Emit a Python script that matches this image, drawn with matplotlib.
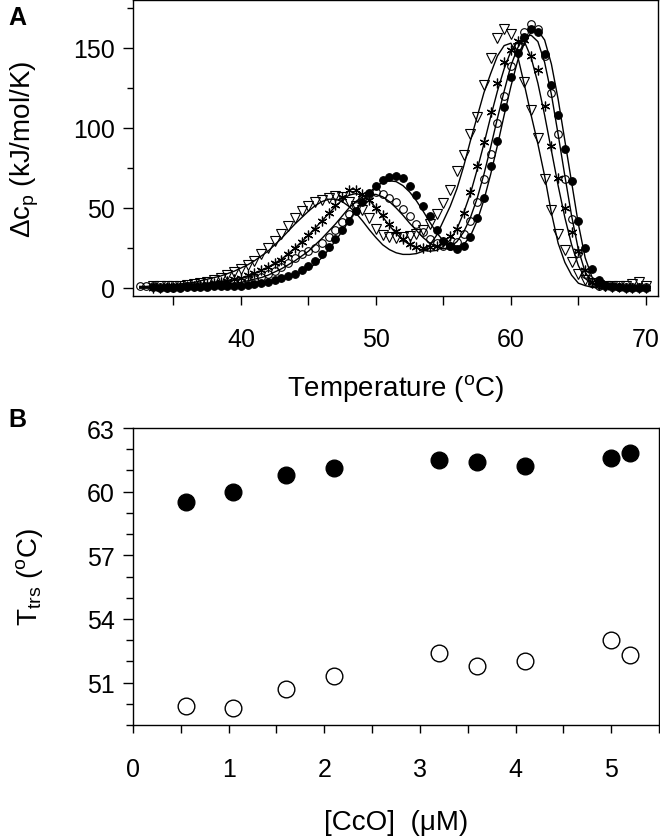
import numpy as np
import matplotlib.pyplot as plt
from matplotlib.ticker import MultipleLocator

plt.rcParams['font.family'] = ['Liberation Sans', 'DejaVu Sans']
plt.rcParams['mathtext.fontset'] = 'custom'
plt.rcParams['mathtext.rm'] = 'Liberation Sans'
plt.rcParams['mathtext.it'] = 'Liberation Sans:italic'
plt.rcParams['mathtext.sf'] = 'Liberation Sans'

# DSC scans at 0.5 degC steps (32.5 ... 70.0)
temp = np.arange(32.5, 70.01, 0.5)
nan = np.nan

cp_filled = [nan, nan, 0.5, 0, 0, 0, 0, 0.5, 0.5, 0.5,
             0.5, 1, 1, 1, 1.5, 1.5, 2, 2.5, 3, 4,
             5, 6, 7.5, 9, 11, 13.5, 17, 21, 25.5, 30.5,
             36, 42, 48, 54, 59.5, 64, 67.5, 69.5, 70, 68.5,
             64, 58, 51.5, 45, 36, 29.5, 26, 24.5, 26, 32,
             44, 56, 76, 92, 113, 132, 147, 157, 162, 160,
             146, 127, 108, 87, 67, 42, 25, 12, 5, 2,
             1, 0.5, 0, 0, 0, 0]
cp_open = [1, 1, 1, 0.5, 0.5, 0.5, 0.5, 1, 1, 1,
           1.5, 2, 2, 2.5, 3, 3.5, 4.5, 5.5, 7, 8.5,
           10.5, 13, 15.5, 18.5, 21, 23, 25, 28, 32, 36,
           41, 46, 51, 55.5, 58.5, 60, 59, 56.5, 53.5, 49.5,
           45, 40, 35, 30.5, 28, 26, 26, 28.5, 34, 42,
           54, 68, 84, 103, 120, 139, 151, 160, 165, 162,
           145, 122, 96, 68, 43, 22, 9, 3, 1.5, 1,
           0.5, 0.5, 0.5, 0.5, 0.5, 0.5]
cp_star = [nan, nan, 0, 0, 0.5, 0.5, 1, 1, 1.5, 2,
           2.5, 3, 3.5, 4.5, 5.5, 6.5, 8, 9.5, 11, 13,
           15.5, 17.5, 21, 25, 29, 33, 37, 42, 47, 52,
           57, 61, 61, 59, 55, 50, 45.5, 40, 35.5, 30.5,
           27.5, 25.5, 25, 25.5, 26.5, 29, 32.5, 37, 47, 60,
           76, 91, 110, 128, 141, 149, 154.5, 155, 145, 136,
           114, 89, 69, 50, 35, 23, 11, 4, 2, 1,
           0.5, 0.5, 0, 0, 0, 0]
cp_tri = [nan, nan, 1, 1, 1, 1, 1.5, 2, 2.5, 3,
          4, 5, 6.5, 8, 10, 12, 14.5, 17, 21, 25,
          29.5, 34, 39, 44, 48, 51, 53.5, 55, 56.5, 57.5,
          57, 54, 51, 48.5, 44, 37, 33, 32, 31.5, 32,
          32.5, 34, 36, 40, 46.5, 53, 61, 73, 83, 96,
          107, 127, 144, 156, 162, 159, 150, 129, 111, 94,
          68, 49, 34, 24, 16, 9, 5, 3, 2, 1.5,
          1.5, 1.5, 1.5, 2.5, 3.5, 1.5]

# fitted curves, same temperature grid
fit_filled = [0, 0, 0, 0, 0, 0, 0, 0.5, 0.5, 0.5,
              1, 1, 1, 1.5, 1.5, 1.5, 2, 2, 2.5, 3,
              4, 5, 6.5, 8, 10, 12, 15, 19, 24, 29.5,
              35.5, 42, 48.5, 54.5, 59.5, 63.5, 66, 67, 66.5, 64,
              60, 54.5, 48, 41, 34.5, 29.5, 26, 25, 27, 32.5,
              42, 55, 71, 89, 108, 126, 142, 153, 160, 161,
              155, 140, 118, 92, 66, 40, 19, 7, 2.5, 1,
              0.5, 0, 0, 0, 0, 0]
fit_open = [0.5, 0.5, 0.5, 0.5, 0.5, 0.5, 0.5, 1, 1, 1,
            1.5, 1.5, 2, 2.5, 3, 3.5, 4.5, 5.5, 6.5, 8,
            10, 12, 14.5, 17, 20, 23, 27, 31, 35.5, 40,
            45, 50, 54, 57, 58.5, 58.5, 57, 54, 50, 45.5,
            40.5, 36, 31.5, 28, 25.5, 24.5, 25.5, 29, 35, 44,
            56, 71, 88, 106, 123, 139, 150, 157, 158, 154,
            141, 121, 96, 70, 45, 24, 10, 3.5, 1, 0.5,
            0, 0, 0, 0, 0, 0]
fit_star = [0, 0, 0, 0.5, 0.5, 0.5, 1, 1, 1.5, 2,
            2.5, 3, 3.5, 4.5, 5, 6, 7.5, 9, 11, 13,
            15.5, 18, 21.5, 25, 29, 33, 37.5, 42, 46.5, 51,
            55, 58, 59, 58, 55, 50, 44.5, 39, 34, 30,
            27, 25, 23.5, 23, 23.5, 26, 30, 37, 47, 59,
            74, 90, 107, 123, 137, 148, 154, 154, 144, 128,
            108, 86, 64, 44, 27, 14, 6, 2.5, 1, 0.5,
            0, 0, 0, 0, 0, 0]
fit_tri = [1, 1, 1.5, 1.5, 2, 2, 2.5, 3, 3.5, 4.5,
           5.5, 6.5, 7.5, 9, 10.5, 12.5, 14.5, 17, 20, 23,
           27, 31, 35.5, 40, 44, 48, 51.5, 54, 55.5, 55.5,
           54, 51, 47, 42, 36.5, 31.5, 27, 24, 22, 21,
           21, 21.5, 23, 27, 33, 42, 51, 62, 76, 92,
           107, 122, 134, 145, 151.5, 153, 145, 127, 108, 90,
           70, 47, 28, 16, 8, 3, 1.5, 0.5, 0, 0,
           0, 0, 0, 0, 0, 0]

# panel B: transition temperatures vs CcO concentration
conc = [0.55, 1.05, 1.6, 2.1, 3.2, 3.6, 4.1, 5.0, 5.2]
t_high = [59.5, 60.0, 60.8, 61.1, 61.5, 61.4, 61.2, 61.6, 61.8]
t_low = [49.9, 49.8, 50.7, 51.3, 52.4, 51.8, 52.0, 53.0, 52.3]

fig = plt.figure(figsize=(6.6, 8.37), dpi=100)
axA = fig.add_axes([133/660, 1 - 297/837, 525/660, 296/837])
axB = fig.add_axes([133/660, 1 - 726/837, 526/660, 297/837])

for fit in (fit_tri, fit_star, fit_open, fit_filled):
    axA.plot(temp, fit, color='black', lw=1.0, zorder=2)

axA.plot(temp, cp_filled, 'o', ms=5.5, mfc='black', mec='black', mew=0.8, zorder=3)
axA.plot(temp, cp_open, 'o', ms=5.5, mfc='none', mec='black', mew=0.8, zorder=3)
axA.plot(temp, cp_star, ls='none', marker=(6, 2, 0), ms=7, mec='black', mew=0.9, zorder=3)
axA.plot(temp, cp_tri, 'v', ms=6.5, mfc='none', mec='black', mew=0.8, zorder=3)

axA.set_xlim(32, 70.9)
axA.set_ylim(-5, 180)
axA.xaxis.set_major_locator(MultipleLocator(10))
axA.xaxis.set_minor_locator(MultipleLocator(5))
axA.yaxis.set_major_locator(MultipleLocator(50))
axA.yaxis.set_minor_locator(MultipleLocator(25))
axA.tick_params(axis='x', which='both', direction='out', length=6.5, width=1.0,
                labelsize=18, pad=16, top=False)
axA.tick_params(axis='y', which='major', direction='out', length=7, width=1.0,
                labelsize=18, pad=6, right=False)
axA.tick_params(axis='y', which='minor', direction='out', length=4.5, width=1.0, right=False)
axA.set_xlabel(r'Temperature ($^{\rm o}$C)', fontsize=20, labelpad=15)
axA.set_ylabel(r'$\Delta$c$_{\rm p}$ (kJ/mol/K)', fontsize=20, labelpad=23)

axB.plot(conc, t_high, 'o', ms=12, mfc='black', mec='black', mew=1.0)
axB.plot(conc, t_low, 'o', ms=12, mfc='white', mec='black', mew=1.0)
axB.set_xlim(0, 5.5)
axB.set_ylim(49, 63)
axB.xaxis.set_major_locator(MultipleLocator(1))
axB.xaxis.set_minor_locator(MultipleLocator(0.5))
axB.yaxis.set_major_locator(MultipleLocator(3))
axB.yaxis.set_minor_locator(MultipleLocator(1))
axB.tick_params(axis='x', which='both', direction='out', length=6, width=1.0,
                labelsize=18, pad=17, top=False)
axB.tick_params(axis='y', which='major', direction='out', length=7, width=1.0,
                labelsize=18, pad=6, right=False)
axB.tick_params(axis='y', which='minor', direction='out', length=5, width=1.0, right=False)
axB.set_xlabel('[CcO]  (\u03bcM)', fontsize=20, labelpad=20)
axB.set_ylabel(r'T$_{\rm trs}$ ($^{\rm o}$C)', fontsize=20, labelpad=30)

for ax in (axA, axB):
    for sp in ax.spines.values():
        sp.set_linewidth(1.0)

fig.text(8/660, 1 - 18/837, 'A', fontsize=18, fontweight='bold', va='center', ha='left')
fig.text(8/660, 1 - 420/837, 'B', fontsize=18, fontweight='bold', va='center', ha='left')

fig.savefig('out.png', dpi=100)
